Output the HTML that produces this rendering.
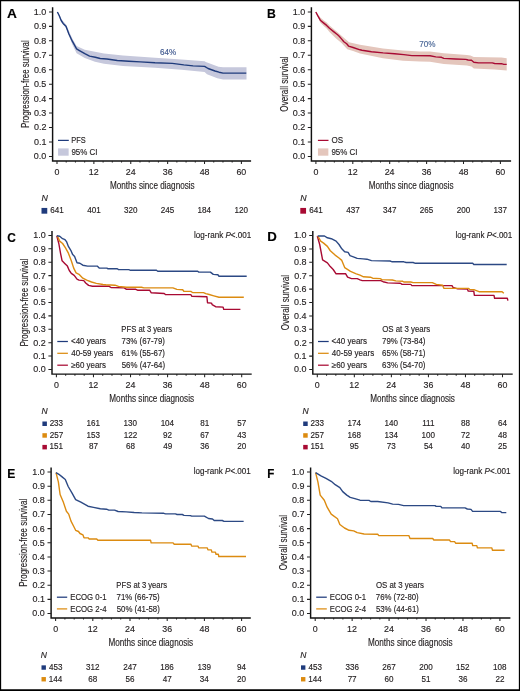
<!DOCTYPE html>
<html><head><meta charset="utf-8"><style>
html,body{margin:0;padding:0;background:#fff;}
svg{display:block;will-change:transform;font-family:"Liberation Sans", sans-serif;}
</style></head><body>
<svg width="520" height="691" viewBox="0 0 520 691">
<rect x="0" y="0" width="520" height="691" fill="#fff"/>
<text x="6.97" y="17.80" font-size="13.1" font-weight="bold" textLength="9.89" lengthAdjust="spacingAndGlyphs" fill="#000" stroke="#000" stroke-width="0.15">A</text>
<path d="M52.60 7.20 V160.90 H251.10" fill="none" stroke="#111" stroke-width="1.45"/>
<text x="33.85" y="159.35" font-size="9.6" textLength="12.49" lengthAdjust="spacingAndGlyphs" fill="#231f20" stroke="#231f20" stroke-width="0.15">0.0</text>
<text x="33.94" y="144.90" font-size="9.6" textLength="12.49" lengthAdjust="spacingAndGlyphs" fill="#231f20" stroke="#231f20" stroke-width="0.15">0.1</text>
<text x="33.96" y="130.45" font-size="9.6" textLength="12.49" lengthAdjust="spacingAndGlyphs" fill="#231f20" stroke="#231f20" stroke-width="0.15">0.2</text>
<text x="33.89" y="116.00" font-size="9.6" textLength="12.49" lengthAdjust="spacingAndGlyphs" fill="#231f20" stroke="#231f20" stroke-width="0.15">0.3</text>
<text x="33.77" y="101.55" font-size="9.6" textLength="12.49" lengthAdjust="spacingAndGlyphs" fill="#231f20" stroke="#231f20" stroke-width="0.15">0.4</text>
<text x="33.88" y="87.10" font-size="9.6" textLength="12.49" lengthAdjust="spacingAndGlyphs" fill="#231f20" stroke="#231f20" stroke-width="0.15">0.5</text>
<text x="33.89" y="72.65" font-size="9.6" textLength="12.49" lengthAdjust="spacingAndGlyphs" fill="#231f20" stroke="#231f20" stroke-width="0.15">0.6</text>
<text x="33.96" y="58.20" font-size="9.6" textLength="12.49" lengthAdjust="spacingAndGlyphs" fill="#231f20" stroke="#231f20" stroke-width="0.15">0.7</text>
<text x="33.89" y="43.75" font-size="9.6" textLength="12.49" lengthAdjust="spacingAndGlyphs" fill="#231f20" stroke="#231f20" stroke-width="0.15">0.8</text>
<text x="33.93" y="29.30" font-size="9.6" textLength="12.49" lengthAdjust="spacingAndGlyphs" fill="#231f20" stroke="#231f20" stroke-width="0.15">0.9</text>
<text x="33.85" y="14.85" font-size="9.6" textLength="12.49" lengthAdjust="spacingAndGlyphs" fill="#231f20" stroke="#231f20" stroke-width="0.15">1.0</text>
<text x="54.53" y="174.75" font-size="9.5" textLength="4.94" lengthAdjust="spacingAndGlyphs" fill="#231f20" stroke="#231f20" stroke-width="0.15">0</text>
<text x="88.82" y="174.75" font-size="9.5" textLength="9.88" lengthAdjust="spacingAndGlyphs" fill="#231f20" stroke="#231f20" stroke-width="0.15">12</text>
<text x="125.73" y="174.75" font-size="9.5" textLength="9.88" lengthAdjust="spacingAndGlyphs" fill="#231f20" stroke="#231f20" stroke-width="0.15">24</text>
<text x="162.72" y="174.75" font-size="9.5" textLength="9.88" lengthAdjust="spacingAndGlyphs" fill="#231f20" stroke="#231f20" stroke-width="0.15">36</text>
<text x="199.67" y="174.75" font-size="9.5" textLength="9.88" lengthAdjust="spacingAndGlyphs" fill="#231f20" stroke="#231f20" stroke-width="0.15">48</text>
<text x="236.41" y="174.75" font-size="9.5" textLength="9.88" lengthAdjust="spacingAndGlyphs" fill="#231f20" stroke="#231f20" stroke-width="0.15">60</text>
<path d="M49.00 156.40 H52.60 M49.00 141.95 H52.60 M49.00 127.50 H52.60 M49.00 113.05 H52.60 M49.00 98.60 H52.60 M49.00 84.15 H52.60 M49.00 69.70 H52.60 M49.00 55.25 H52.60 M49.00 40.80 H52.60 M49.00 26.35 H52.60 M49.00 11.90 H52.60 M57.00 160.90 V164.10 M66.22 160.90 V162.60 M75.44 160.90 V162.60 M84.66 160.90 V162.60 M93.88 160.90 V164.10 M103.10 160.90 V162.60 M112.32 160.90 V162.60 M121.54 160.90 V162.60 M130.76 160.90 V164.10 M139.98 160.90 V162.60 M149.20 160.90 V162.60 M158.42 160.90 V162.60 M167.64 160.90 V164.10 M176.86 160.90 V162.60 M186.08 160.90 V162.60 M195.30 160.90 V162.60 M204.52 160.90 V164.10 M213.74 160.90 V162.60 M222.96 160.90 V162.60 M232.18 160.90 V162.60 M241.40 160.90 V164.10" fill="none" stroke="#222" stroke-width="1.05"/>
<text x="109.93" y="188.85" font-size="10.4" textLength="84.76" lengthAdjust="spacingAndGlyphs" fill="#231f20" stroke="#231f20" stroke-width="0.15">Months since diagnosis</text>
<text transform="translate(28.70,84.10) rotate(-90)" x="-44.00" y="0" font-size="11.4" textLength="87.88" lengthAdjust="spacingAndGlyphs" fill="#231f20" stroke="#231f20" stroke-width="0.15">Progression-free survival</text>
<text x="41.44" y="201.00" font-size="8.2" font-style="italic" textLength="6.36" lengthAdjust="spacingAndGlyphs" fill="#231f20" stroke="#231f20" stroke-width="0.15">N</text>
<rect x="41.50" y="207.93" width="5.75" height="5.75" fill="#1f3b7c"/>
<text x="50.25" y="212.85" font-size="8.2" textLength="13.50" lengthAdjust="spacingAndGlyphs" fill="#231f20" stroke="#231f20" stroke-width="0.15">641</text>
<text x="87.24" y="212.85" font-size="8.2" textLength="13.50" lengthAdjust="spacingAndGlyphs" fill="#231f20" stroke="#231f20" stroke-width="0.15">401</text>
<text x="124.01" y="212.85" font-size="8.2" textLength="13.50" lengthAdjust="spacingAndGlyphs" fill="#231f20" stroke="#231f20" stroke-width="0.15">320</text>
<text x="160.86" y="212.85" font-size="8.2" textLength="13.50" lengthAdjust="spacingAndGlyphs" fill="#231f20" stroke="#231f20" stroke-width="0.15">245</text>
<text x="197.58" y="212.85" font-size="8.2" textLength="13.50" lengthAdjust="spacingAndGlyphs" fill="#231f20" stroke="#231f20" stroke-width="0.15">184</text>
<text x="234.50" y="212.85" font-size="8.2" textLength="13.50" lengthAdjust="spacingAndGlyphs" fill="#231f20" stroke="#231f20" stroke-width="0.15">120</text>
<text x="266.94" y="17.60" font-size="13.1" font-weight="bold" textLength="8.86" lengthAdjust="spacingAndGlyphs" fill="#000" stroke="#000" stroke-width="0.15">B</text>
<path d="M311.40 7.20 V160.90 H511.10" fill="none" stroke="#111" stroke-width="1.45"/>
<text x="292.65" y="159.35" font-size="9.6" textLength="12.49" lengthAdjust="spacingAndGlyphs" fill="#231f20" stroke="#231f20" stroke-width="0.15">0.0</text>
<text x="292.74" y="144.90" font-size="9.6" textLength="12.49" lengthAdjust="spacingAndGlyphs" fill="#231f20" stroke="#231f20" stroke-width="0.15">0.1</text>
<text x="292.76" y="130.45" font-size="9.6" textLength="12.49" lengthAdjust="spacingAndGlyphs" fill="#231f20" stroke="#231f20" stroke-width="0.15">0.2</text>
<text x="292.69" y="116.00" font-size="9.6" textLength="12.49" lengthAdjust="spacingAndGlyphs" fill="#231f20" stroke="#231f20" stroke-width="0.15">0.3</text>
<text x="292.57" y="101.55" font-size="9.6" textLength="12.49" lengthAdjust="spacingAndGlyphs" fill="#231f20" stroke="#231f20" stroke-width="0.15">0.4</text>
<text x="292.68" y="87.10" font-size="9.6" textLength="12.49" lengthAdjust="spacingAndGlyphs" fill="#231f20" stroke="#231f20" stroke-width="0.15">0.5</text>
<text x="292.69" y="72.65" font-size="9.6" textLength="12.49" lengthAdjust="spacingAndGlyphs" fill="#231f20" stroke="#231f20" stroke-width="0.15">0.6</text>
<text x="292.76" y="58.20" font-size="9.6" textLength="12.49" lengthAdjust="spacingAndGlyphs" fill="#231f20" stroke="#231f20" stroke-width="0.15">0.7</text>
<text x="292.69" y="43.75" font-size="9.6" textLength="12.49" lengthAdjust="spacingAndGlyphs" fill="#231f20" stroke="#231f20" stroke-width="0.15">0.8</text>
<text x="292.73" y="29.30" font-size="9.6" textLength="12.49" lengthAdjust="spacingAndGlyphs" fill="#231f20" stroke="#231f20" stroke-width="0.15">0.9</text>
<text x="292.65" y="14.85" font-size="9.6" textLength="12.49" lengthAdjust="spacingAndGlyphs" fill="#231f20" stroke="#231f20" stroke-width="0.15">1.0</text>
<text x="313.43" y="174.75" font-size="9.5" textLength="4.94" lengthAdjust="spacingAndGlyphs" fill="#231f20" stroke="#231f20" stroke-width="0.15">0</text>
<text x="347.74" y="174.75" font-size="9.5" textLength="9.88" lengthAdjust="spacingAndGlyphs" fill="#231f20" stroke="#231f20" stroke-width="0.15">12</text>
<text x="384.67" y="174.75" font-size="9.5" textLength="9.88" lengthAdjust="spacingAndGlyphs" fill="#231f20" stroke="#231f20" stroke-width="0.15">24</text>
<text x="421.68" y="174.75" font-size="9.5" textLength="9.88" lengthAdjust="spacingAndGlyphs" fill="#231f20" stroke="#231f20" stroke-width="0.15">36</text>
<text x="458.65" y="174.75" font-size="9.5" textLength="9.88" lengthAdjust="spacingAndGlyphs" fill="#231f20" stroke="#231f20" stroke-width="0.15">48</text>
<text x="495.41" y="174.75" font-size="9.5" textLength="9.88" lengthAdjust="spacingAndGlyphs" fill="#231f20" stroke="#231f20" stroke-width="0.15">60</text>
<path d="M307.80 156.40 H311.40 M307.80 141.95 H311.40 M307.80 127.50 H311.40 M307.80 113.05 H311.40 M307.80 98.60 H311.40 M307.80 84.15 H311.40 M307.80 69.70 H311.40 M307.80 55.25 H311.40 M307.80 40.80 H311.40 M307.80 26.35 H311.40 M307.80 11.90 H311.40 M315.90 160.90 V164.10 M325.12 160.90 V162.60 M334.35 160.90 V162.60 M343.57 160.90 V162.60 M352.80 160.90 V164.10 M362.02 160.90 V162.60 M371.25 160.90 V162.60 M380.47 160.90 V162.60 M389.70 160.90 V164.10 M398.92 160.90 V162.60 M408.15 160.90 V162.60 M417.38 160.90 V162.60 M426.60 160.90 V164.10 M435.82 160.90 V162.60 M445.05 160.90 V162.60 M454.27 160.90 V162.60 M463.50 160.90 V164.10 M472.73 160.90 V162.60 M481.95 160.90 V162.60 M491.17 160.90 V162.60 M500.40 160.90 V164.10" fill="none" stroke="#222" stroke-width="1.05"/>
<text x="368.73" y="188.85" font-size="10.4" textLength="84.76" lengthAdjust="spacingAndGlyphs" fill="#231f20" stroke="#231f20" stroke-width="0.15">Months since diagnosis</text>
<text transform="translate(287.50,84.10) rotate(-90)" x="-27.56" y="0" font-size="11.4" textLength="55.26" lengthAdjust="spacingAndGlyphs" fill="#231f20" stroke="#231f20" stroke-width="0.15">Overall survival</text>
<text x="300.24" y="201.00" font-size="8.2" font-style="italic" textLength="6.36" lengthAdjust="spacingAndGlyphs" fill="#231f20" stroke="#231f20" stroke-width="0.15">N</text>
<rect x="300.30" y="207.93" width="5.75" height="5.75" fill="#a80a33"/>
<text x="309.15" y="212.85" font-size="8.2" textLength="13.50" lengthAdjust="spacingAndGlyphs" fill="#231f20" stroke="#231f20" stroke-width="0.15">641</text>
<text x="346.17" y="212.85" font-size="8.2" textLength="13.50" lengthAdjust="spacingAndGlyphs" fill="#231f20" stroke="#231f20" stroke-width="0.15">437</text>
<text x="383.00" y="212.85" font-size="8.2" textLength="13.50" lengthAdjust="spacingAndGlyphs" fill="#231f20" stroke="#231f20" stroke-width="0.15">347</text>
<text x="419.82" y="212.85" font-size="8.2" textLength="13.50" lengthAdjust="spacingAndGlyphs" fill="#231f20" stroke="#231f20" stroke-width="0.15">265</text>
<text x="456.71" y="212.85" font-size="8.2" textLength="13.50" lengthAdjust="spacingAndGlyphs" fill="#231f20" stroke="#231f20" stroke-width="0.15">200</text>
<text x="493.55" y="212.85" font-size="8.2" textLength="13.50" lengthAdjust="spacingAndGlyphs" fill="#231f20" stroke="#231f20" stroke-width="0.15">137</text>
<text x="7.31" y="241.70" font-size="13.1" font-weight="bold" textLength="8.61" lengthAdjust="spacingAndGlyphs" fill="#000" stroke="#000" stroke-width="0.15">C</text>
<path d="M52.00 231.00 V374.10 H251.70" fill="none" stroke="#111" stroke-width="1.45"/>
<text x="33.25" y="372.45" font-size="9.6" textLength="12.49" lengthAdjust="spacingAndGlyphs" fill="#231f20" stroke="#231f20" stroke-width="0.15">0.0</text>
<text x="33.34" y="359.04" font-size="9.6" textLength="12.49" lengthAdjust="spacingAndGlyphs" fill="#231f20" stroke="#231f20" stroke-width="0.15">0.1</text>
<text x="33.36" y="345.63" font-size="9.6" textLength="12.49" lengthAdjust="spacingAndGlyphs" fill="#231f20" stroke="#231f20" stroke-width="0.15">0.2</text>
<text x="33.29" y="332.22" font-size="9.6" textLength="12.49" lengthAdjust="spacingAndGlyphs" fill="#231f20" stroke="#231f20" stroke-width="0.15">0.3</text>
<text x="33.17" y="318.81" font-size="9.6" textLength="12.49" lengthAdjust="spacingAndGlyphs" fill="#231f20" stroke="#231f20" stroke-width="0.15">0.4</text>
<text x="33.28" y="305.40" font-size="9.6" textLength="12.49" lengthAdjust="spacingAndGlyphs" fill="#231f20" stroke="#231f20" stroke-width="0.15">0.5</text>
<text x="33.29" y="291.99" font-size="9.6" textLength="12.49" lengthAdjust="spacingAndGlyphs" fill="#231f20" stroke="#231f20" stroke-width="0.15">0.6</text>
<text x="33.36" y="278.58" font-size="9.6" textLength="12.49" lengthAdjust="spacingAndGlyphs" fill="#231f20" stroke="#231f20" stroke-width="0.15">0.7</text>
<text x="33.29" y="265.17" font-size="9.6" textLength="12.49" lengthAdjust="spacingAndGlyphs" fill="#231f20" stroke="#231f20" stroke-width="0.15">0.8</text>
<text x="33.33" y="251.76" font-size="9.6" textLength="12.49" lengthAdjust="spacingAndGlyphs" fill="#231f20" stroke="#231f20" stroke-width="0.15">0.9</text>
<text x="33.25" y="238.35" font-size="9.6" textLength="12.49" lengthAdjust="spacingAndGlyphs" fill="#231f20" stroke="#231f20" stroke-width="0.15">1.0</text>
<text x="53.93" y="387.95" font-size="9.5" textLength="4.94" lengthAdjust="spacingAndGlyphs" fill="#231f20" stroke="#231f20" stroke-width="0.15">0</text>
<text x="88.40" y="387.95" font-size="9.5" textLength="9.88" lengthAdjust="spacingAndGlyphs" fill="#231f20" stroke="#231f20" stroke-width="0.15">12</text>
<text x="125.49" y="387.95" font-size="9.5" textLength="9.88" lengthAdjust="spacingAndGlyphs" fill="#231f20" stroke="#231f20" stroke-width="0.15">24</text>
<text x="162.66" y="387.95" font-size="9.5" textLength="9.88" lengthAdjust="spacingAndGlyphs" fill="#231f20" stroke="#231f20" stroke-width="0.15">36</text>
<text x="199.79" y="387.95" font-size="9.5" textLength="9.88" lengthAdjust="spacingAndGlyphs" fill="#231f20" stroke="#231f20" stroke-width="0.15">48</text>
<text x="236.71" y="387.95" font-size="9.5" textLength="9.88" lengthAdjust="spacingAndGlyphs" fill="#231f20" stroke="#231f20" stroke-width="0.15">60</text>
<path d="M48.40 369.50 H52.00 M48.40 356.09 H52.00 M48.40 342.68 H52.00 M48.40 329.27 H52.00 M48.40 315.86 H52.00 M48.40 302.45 H52.00 M48.40 289.04 H52.00 M48.40 275.63 H52.00 M48.40 262.22 H52.00 M48.40 248.81 H52.00 M48.40 235.40 H52.00 M56.40 374.10 V377.30 M65.66 374.10 V375.80 M74.93 374.10 V375.80 M84.19 374.10 V375.80 M93.46 374.10 V377.30 M102.72 374.10 V375.80 M111.99 374.10 V375.80 M121.25 374.10 V375.80 M130.52 374.10 V377.30 M139.78 374.10 V375.80 M149.05 374.10 V375.80 M158.31 374.10 V375.80 M167.58 374.10 V377.30 M176.84 374.10 V375.80 M186.11 374.10 V375.80 M195.38 374.10 V375.80 M204.64 374.10 V377.30 M213.90 374.10 V375.80 M223.17 374.10 V375.80 M232.43 374.10 V375.80 M241.70 374.10 V377.30" fill="none" stroke="#222" stroke-width="1.05"/>
<text x="109.33" y="402.05" font-size="10.4" textLength="84.76" lengthAdjust="spacingAndGlyphs" fill="#231f20" stroke="#231f20" stroke-width="0.15">Months since diagnosis</text>
<text transform="translate(28.10,302.60) rotate(-90)" x="-44.00" y="0" font-size="11.4" textLength="87.88" lengthAdjust="spacingAndGlyphs" fill="#231f20" stroke="#231f20" stroke-width="0.15">Progression-free survival</text>
<text x="41.64" y="414.20" font-size="8.2" font-style="italic" textLength="6.15" lengthAdjust="spacingAndGlyphs" fill="#231f20" stroke="#231f20" stroke-width="0.15">N</text>
<rect x="42.40" y="421.50" width="4.50" height="4.50" fill="#1f3b7c"/>
<text x="49.63" y="426.05" font-size="8.2" textLength="13.50" lengthAdjust="spacingAndGlyphs" fill="#231f20" stroke="#231f20" stroke-width="0.15">233</text>
<text x="86.60" y="426.05" font-size="8.2" textLength="13.50" lengthAdjust="spacingAndGlyphs" fill="#231f20" stroke="#231f20" stroke-width="0.15">161</text>
<text x="123.62" y="426.05" font-size="8.2" textLength="13.50" lengthAdjust="spacingAndGlyphs" fill="#231f20" stroke="#231f20" stroke-width="0.15">130</text>
<text x="160.64" y="426.05" font-size="8.2" textLength="13.50" lengthAdjust="spacingAndGlyphs" fill="#231f20" stroke="#231f20" stroke-width="0.15">104</text>
<text x="200.16" y="426.05" font-size="8.2" textLength="9.00" lengthAdjust="spacingAndGlyphs" fill="#231f20" stroke="#231f20" stroke-width="0.15">81</text>
<text x="237.24" y="426.05" font-size="8.2" textLength="9.00" lengthAdjust="spacingAndGlyphs" fill="#231f20" stroke="#231f20" stroke-width="0.15">57</text>
<rect x="42.40" y="433.20" width="4.50" height="4.50" fill="#dc8b10"/>
<text x="49.65" y="437.75" font-size="8.2" textLength="13.50" lengthAdjust="spacingAndGlyphs" fill="#231f20" stroke="#231f20" stroke-width="0.15">257</text>
<text x="86.58" y="437.75" font-size="8.2" textLength="13.50" lengthAdjust="spacingAndGlyphs" fill="#231f20" stroke="#231f20" stroke-width="0.15">153</text>
<text x="123.67" y="437.75" font-size="8.2" textLength="13.50" lengthAdjust="spacingAndGlyphs" fill="#231f20" stroke="#231f20" stroke-width="0.15">122</text>
<text x="163.10" y="437.75" font-size="8.2" textLength="9.00" lengthAdjust="spacingAndGlyphs" fill="#231f20" stroke="#231f20" stroke-width="0.15">92</text>
<text x="200.14" y="437.75" font-size="8.2" textLength="9.00" lengthAdjust="spacingAndGlyphs" fill="#231f20" stroke="#231f20" stroke-width="0.15">67</text>
<text x="237.29" y="437.75" font-size="8.2" textLength="9.00" lengthAdjust="spacingAndGlyphs" fill="#231f20" stroke="#231f20" stroke-width="0.15">43</text>
<rect x="42.40" y="444.90" width="4.50" height="4.50" fill="#a80a33"/>
<text x="49.54" y="449.45" font-size="8.2" textLength="13.50" lengthAdjust="spacingAndGlyphs" fill="#231f20" stroke="#231f20" stroke-width="0.15">151</text>
<text x="88.99" y="449.45" font-size="8.2" textLength="9.00" lengthAdjust="spacingAndGlyphs" fill="#231f20" stroke="#231f20" stroke-width="0.15">87</text>
<text x="125.99" y="449.45" font-size="8.2" textLength="9.00" lengthAdjust="spacingAndGlyphs" fill="#231f20" stroke="#231f20" stroke-width="0.15">68</text>
<text x="163.18" y="449.45" font-size="8.2" textLength="9.00" lengthAdjust="spacingAndGlyphs" fill="#231f20" stroke="#231f20" stroke-width="0.15">49</text>
<text x="200.16" y="449.45" font-size="8.2" textLength="9.00" lengthAdjust="spacingAndGlyphs" fill="#231f20" stroke="#231f20" stroke-width="0.15">36</text>
<text x="237.15" y="449.45" font-size="8.2" textLength="9.00" lengthAdjust="spacingAndGlyphs" fill="#231f20" stroke="#231f20" stroke-width="0.15">20</text>
<text x="267.23" y="241.30" font-size="13.1" font-weight="bold" textLength="9.57" lengthAdjust="spacingAndGlyphs" fill="#000" stroke="#000" stroke-width="0.15">D</text>
<path d="M312.80 231.00 V374.10 H512.70" fill="none" stroke="#111" stroke-width="1.45"/>
<text x="294.05" y="372.45" font-size="9.6" textLength="12.49" lengthAdjust="spacingAndGlyphs" fill="#231f20" stroke="#231f20" stroke-width="0.15">0.0</text>
<text x="294.14" y="359.05" font-size="9.6" textLength="12.49" lengthAdjust="spacingAndGlyphs" fill="#231f20" stroke="#231f20" stroke-width="0.15">0.1</text>
<text x="294.16" y="345.65" font-size="9.6" textLength="12.49" lengthAdjust="spacingAndGlyphs" fill="#231f20" stroke="#231f20" stroke-width="0.15">0.2</text>
<text x="294.09" y="332.25" font-size="9.6" textLength="12.49" lengthAdjust="spacingAndGlyphs" fill="#231f20" stroke="#231f20" stroke-width="0.15">0.3</text>
<text x="293.97" y="318.85" font-size="9.6" textLength="12.49" lengthAdjust="spacingAndGlyphs" fill="#231f20" stroke="#231f20" stroke-width="0.15">0.4</text>
<text x="294.08" y="305.45" font-size="9.6" textLength="12.49" lengthAdjust="spacingAndGlyphs" fill="#231f20" stroke="#231f20" stroke-width="0.15">0.5</text>
<text x="294.09" y="292.05" font-size="9.6" textLength="12.49" lengthAdjust="spacingAndGlyphs" fill="#231f20" stroke="#231f20" stroke-width="0.15">0.6</text>
<text x="294.16" y="278.65" font-size="9.6" textLength="12.49" lengthAdjust="spacingAndGlyphs" fill="#231f20" stroke="#231f20" stroke-width="0.15">0.7</text>
<text x="294.09" y="265.25" font-size="9.6" textLength="12.49" lengthAdjust="spacingAndGlyphs" fill="#231f20" stroke="#231f20" stroke-width="0.15">0.8</text>
<text x="294.13" y="251.85" font-size="9.6" textLength="12.49" lengthAdjust="spacingAndGlyphs" fill="#231f20" stroke="#231f20" stroke-width="0.15">0.9</text>
<text x="294.05" y="238.45" font-size="9.6" textLength="12.49" lengthAdjust="spacingAndGlyphs" fill="#231f20" stroke="#231f20" stroke-width="0.15">1.0</text>
<text x="314.83" y="387.95" font-size="9.5" textLength="4.94" lengthAdjust="spacingAndGlyphs" fill="#231f20" stroke="#231f20" stroke-width="0.15">0</text>
<text x="349.28" y="387.95" font-size="9.5" textLength="9.88" lengthAdjust="spacingAndGlyphs" fill="#231f20" stroke="#231f20" stroke-width="0.15">12</text>
<text x="386.35" y="387.95" font-size="9.5" textLength="9.88" lengthAdjust="spacingAndGlyphs" fill="#231f20" stroke="#231f20" stroke-width="0.15">24</text>
<text x="423.50" y="387.95" font-size="9.5" textLength="9.88" lengthAdjust="spacingAndGlyphs" fill="#231f20" stroke="#231f20" stroke-width="0.15">36</text>
<text x="460.61" y="387.95" font-size="9.5" textLength="9.88" lengthAdjust="spacingAndGlyphs" fill="#231f20" stroke="#231f20" stroke-width="0.15">48</text>
<text x="497.51" y="387.95" font-size="9.5" textLength="9.88" lengthAdjust="spacingAndGlyphs" fill="#231f20" stroke="#231f20" stroke-width="0.15">60</text>
<path d="M309.20 369.50 H312.80 M309.20 356.10 H312.80 M309.20 342.70 H312.80 M309.20 329.30 H312.80 M309.20 315.90 H312.80 M309.20 302.50 H312.80 M309.20 289.10 H312.80 M309.20 275.70 H312.80 M309.20 262.30 H312.80 M309.20 248.90 H312.80 M309.20 235.50 H312.80 M317.30 374.10 V377.30 M326.56 374.10 V375.80 M335.82 374.10 V375.80 M345.08 374.10 V375.80 M354.34 374.10 V377.30 M363.60 374.10 V375.80 M372.86 374.10 V375.80 M382.12 374.10 V375.80 M391.38 374.10 V377.30 M400.64 374.10 V375.80 M409.90 374.10 V375.80 M419.16 374.10 V375.80 M428.42 374.10 V377.30 M437.68 374.10 V375.80 M446.94 374.10 V375.80 M456.20 374.10 V375.80 M465.46 374.10 V377.30 M474.72 374.10 V375.80 M483.98 374.10 V375.80 M493.24 374.10 V375.80 M502.50 374.10 V377.30" fill="none" stroke="#222" stroke-width="1.05"/>
<text x="370.13" y="402.05" font-size="10.4" textLength="84.76" lengthAdjust="spacingAndGlyphs" fill="#231f20" stroke="#231f20" stroke-width="0.15">Months since diagnosis</text>
<text transform="translate(288.90,302.60) rotate(-90)" x="-27.56" y="0" font-size="11.4" textLength="55.26" lengthAdjust="spacingAndGlyphs" fill="#231f20" stroke="#231f20" stroke-width="0.15">Overall survival</text>
<text x="302.44" y="414.20" font-size="8.2" font-style="italic" textLength="6.15" lengthAdjust="spacingAndGlyphs" fill="#231f20" stroke="#231f20" stroke-width="0.15">N</text>
<rect x="303.20" y="421.50" width="4.50" height="4.50" fill="#1f3b7c"/>
<text x="310.53" y="426.05" font-size="8.2" textLength="13.50" lengthAdjust="spacingAndGlyphs" fill="#231f20" stroke="#231f20" stroke-width="0.15">233</text>
<text x="347.40" y="426.05" font-size="8.2" textLength="13.50" lengthAdjust="spacingAndGlyphs" fill="#231f20" stroke="#231f20" stroke-width="0.15">174</text>
<text x="384.48" y="426.05" font-size="8.2" textLength="13.50" lengthAdjust="spacingAndGlyphs" fill="#231f20" stroke="#231f20" stroke-width="0.15">140</text>
<text x="422.16" y="426.05" font-size="8.2" textLength="12.30" lengthAdjust="spacingAndGlyphs" fill="#231f20" stroke="#231f20" stroke-width="0.15">111</text>
<text x="460.96" y="426.05" font-size="8.2" textLength="9.00" lengthAdjust="spacingAndGlyphs" fill="#231f20" stroke="#231f20" stroke-width="0.15">88</text>
<text x="497.92" y="426.05" font-size="8.2" textLength="9.00" lengthAdjust="spacingAndGlyphs" fill="#231f20" stroke="#231f20" stroke-width="0.15">64</text>
<rect x="303.20" y="433.20" width="4.50" height="4.50" fill="#dc8b10"/>
<text x="310.55" y="437.75" font-size="8.2" textLength="13.50" lengthAdjust="spacingAndGlyphs" fill="#231f20" stroke="#231f20" stroke-width="0.15">257</text>
<text x="347.46" y="437.75" font-size="8.2" textLength="13.50" lengthAdjust="spacingAndGlyphs" fill="#231f20" stroke="#231f20" stroke-width="0.15">168</text>
<text x="384.44" y="437.75" font-size="8.2" textLength="13.50" lengthAdjust="spacingAndGlyphs" fill="#231f20" stroke="#231f20" stroke-width="0.15">134</text>
<text x="421.52" y="437.75" font-size="8.2" textLength="13.50" lengthAdjust="spacingAndGlyphs" fill="#231f20" stroke="#231f20" stroke-width="0.15">100</text>
<text x="460.96" y="437.75" font-size="8.2" textLength="9.00" lengthAdjust="spacingAndGlyphs" fill="#231f20" stroke="#231f20" stroke-width="0.15">72</text>
<text x="498.09" y="437.75" font-size="8.2" textLength="9.00" lengthAdjust="spacingAndGlyphs" fill="#231f20" stroke="#231f20" stroke-width="0.15">48</text>
<rect x="303.20" y="444.90" width="4.50" height="4.50" fill="#a80a33"/>
<text x="310.44" y="449.45" font-size="8.2" textLength="13.50" lengthAdjust="spacingAndGlyphs" fill="#231f20" stroke="#231f20" stroke-width="0.15">151</text>
<text x="349.82" y="449.45" font-size="8.2" textLength="9.00" lengthAdjust="spacingAndGlyphs" fill="#231f20" stroke="#231f20" stroke-width="0.15">95</text>
<text x="386.85" y="449.45" font-size="8.2" textLength="9.00" lengthAdjust="spacingAndGlyphs" fill="#231f20" stroke="#231f20" stroke-width="0.15">73</text>
<text x="423.88" y="449.45" font-size="8.2" textLength="9.00" lengthAdjust="spacingAndGlyphs" fill="#231f20" stroke="#231f20" stroke-width="0.15">54</text>
<text x="461.03" y="449.45" font-size="8.2" textLength="9.00" lengthAdjust="spacingAndGlyphs" fill="#231f20" stroke="#231f20" stroke-width="0.15">40</text>
<text x="497.97" y="449.45" font-size="8.2" textLength="9.00" lengthAdjust="spacingAndGlyphs" fill="#231f20" stroke="#231f20" stroke-width="0.15">25</text>
<text x="7.30" y="478.00" font-size="13.1" font-weight="bold" textLength="8.07" lengthAdjust="spacingAndGlyphs" fill="#000" stroke="#000" stroke-width="0.15">E</text>
<path d="M51.10 467.40 V617.90 H250.80" fill="none" stroke="#111" stroke-width="1.45"/>
<text x="32.35" y="616.45" font-size="9.6" textLength="12.49" lengthAdjust="spacingAndGlyphs" fill="#231f20" stroke="#231f20" stroke-width="0.15">0.0</text>
<text x="32.44" y="602.30" font-size="9.6" textLength="12.49" lengthAdjust="spacingAndGlyphs" fill="#231f20" stroke="#231f20" stroke-width="0.15">0.1</text>
<text x="32.46" y="588.15" font-size="9.6" textLength="12.49" lengthAdjust="spacingAndGlyphs" fill="#231f20" stroke="#231f20" stroke-width="0.15">0.2</text>
<text x="32.39" y="574.00" font-size="9.6" textLength="12.49" lengthAdjust="spacingAndGlyphs" fill="#231f20" stroke="#231f20" stroke-width="0.15">0.3</text>
<text x="32.27" y="559.85" font-size="9.6" textLength="12.49" lengthAdjust="spacingAndGlyphs" fill="#231f20" stroke="#231f20" stroke-width="0.15">0.4</text>
<text x="32.38" y="545.70" font-size="9.6" textLength="12.49" lengthAdjust="spacingAndGlyphs" fill="#231f20" stroke="#231f20" stroke-width="0.15">0.5</text>
<text x="32.39" y="531.55" font-size="9.6" textLength="12.49" lengthAdjust="spacingAndGlyphs" fill="#231f20" stroke="#231f20" stroke-width="0.15">0.6</text>
<text x="32.46" y="517.40" font-size="9.6" textLength="12.49" lengthAdjust="spacingAndGlyphs" fill="#231f20" stroke="#231f20" stroke-width="0.15">0.7</text>
<text x="32.39" y="503.25" font-size="9.6" textLength="12.49" lengthAdjust="spacingAndGlyphs" fill="#231f20" stroke="#231f20" stroke-width="0.15">0.8</text>
<text x="32.43" y="489.10" font-size="9.6" textLength="12.49" lengthAdjust="spacingAndGlyphs" fill="#231f20" stroke="#231f20" stroke-width="0.15">0.9</text>
<text x="32.35" y="474.95" font-size="9.6" textLength="12.49" lengthAdjust="spacingAndGlyphs" fill="#231f20" stroke="#231f20" stroke-width="0.15">1.0</text>
<text x="53.13" y="631.75" font-size="9.5" textLength="4.94" lengthAdjust="spacingAndGlyphs" fill="#231f20" stroke="#231f20" stroke-width="0.15">0</text>
<text x="87.74" y="631.75" font-size="9.5" textLength="9.88" lengthAdjust="spacingAndGlyphs" fill="#231f20" stroke="#231f20" stroke-width="0.15">12</text>
<text x="124.97" y="631.75" font-size="9.5" textLength="9.88" lengthAdjust="spacingAndGlyphs" fill="#231f20" stroke="#231f20" stroke-width="0.15">24</text>
<text x="162.28" y="631.75" font-size="9.5" textLength="9.88" lengthAdjust="spacingAndGlyphs" fill="#231f20" stroke="#231f20" stroke-width="0.15">36</text>
<text x="199.55" y="631.75" font-size="9.5" textLength="9.88" lengthAdjust="spacingAndGlyphs" fill="#231f20" stroke="#231f20" stroke-width="0.15">48</text>
<text x="236.61" y="631.75" font-size="9.5" textLength="9.88" lengthAdjust="spacingAndGlyphs" fill="#231f20" stroke="#231f20" stroke-width="0.15">60</text>
<path d="M47.50 613.50 H51.10 M47.50 599.35 H51.10 M47.50 585.20 H51.10 M47.50 571.05 H51.10 M47.50 556.90 H51.10 M47.50 542.75 H51.10 M47.50 528.60 H51.10 M47.50 514.45 H51.10 M47.50 500.30 H51.10 M47.50 486.15 H51.10 M47.50 472.00 H51.10 M55.60 617.90 V621.10 M64.90 617.90 V619.60 M74.20 617.90 V619.60 M83.50 617.90 V619.60 M92.80 617.90 V621.10 M102.10 617.90 V619.60 M111.40 617.90 V619.60 M120.70 617.90 V619.60 M130.00 617.90 V621.10 M139.30 617.90 V619.60 M148.60 617.90 V619.60 M157.90 617.90 V619.60 M167.20 617.90 V621.10 M176.50 617.90 V619.60 M185.80 617.90 V619.60 M195.10 617.90 V619.60 M204.40 617.90 V621.10 M213.70 617.90 V619.60 M223.00 617.90 V619.60 M232.30 617.90 V619.60 M241.60 617.90 V621.10" fill="none" stroke="#222" stroke-width="1.05"/>
<text x="108.43" y="645.85" font-size="10.4" textLength="84.76" lengthAdjust="spacingAndGlyphs" fill="#231f20" stroke="#231f20" stroke-width="0.15">Months since diagnosis</text>
<text transform="translate(27.20,542.70) rotate(-90)" x="-44.00" y="0" font-size="11.4" textLength="87.88" lengthAdjust="spacingAndGlyphs" fill="#231f20" stroke="#231f20" stroke-width="0.15">Progression-free survival</text>
<text x="40.74" y="658.00" font-size="8.2" font-style="italic" textLength="6.15" lengthAdjust="spacingAndGlyphs" fill="#231f20" stroke="#231f20" stroke-width="0.15">N</text>
<rect x="41.50" y="665.35" width="4.40" height="4.40" fill="#1f3b7c"/>
<text x="48.94" y="669.85" font-size="8.2" textLength="13.50" lengthAdjust="spacingAndGlyphs" fill="#231f20" stroke="#231f20" stroke-width="0.15">453</text>
<text x="86.10" y="669.85" font-size="8.2" textLength="13.50" lengthAdjust="spacingAndGlyphs" fill="#231f20" stroke="#231f20" stroke-width="0.15">312</text>
<text x="123.25" y="669.85" font-size="8.2" textLength="13.50" lengthAdjust="spacingAndGlyphs" fill="#231f20" stroke="#231f20" stroke-width="0.15">247</text>
<text x="160.32" y="669.85" font-size="8.2" textLength="13.50" lengthAdjust="spacingAndGlyphs" fill="#231f20" stroke="#231f20" stroke-width="0.15">186</text>
<text x="197.54" y="669.85" font-size="8.2" textLength="13.50" lengthAdjust="spacingAndGlyphs" fill="#231f20" stroke="#231f20" stroke-width="0.15">139</text>
<text x="237.03" y="669.85" font-size="8.2" textLength="9.00" lengthAdjust="spacingAndGlyphs" fill="#231f20" stroke="#231f20" stroke-width="0.15">94</text>
<rect x="41.50" y="677.05" width="4.40" height="4.40" fill="#dc8b10"/>
<text x="48.66" y="681.55" font-size="8.2" textLength="13.50" lengthAdjust="spacingAndGlyphs" fill="#231f20" stroke="#231f20" stroke-width="0.15">144</text>
<text x="88.27" y="681.55" font-size="8.2" textLength="9.00" lengthAdjust="spacingAndGlyphs" fill="#231f20" stroke="#231f20" stroke-width="0.15">68</text>
<text x="125.51" y="681.55" font-size="8.2" textLength="9.00" lengthAdjust="spacingAndGlyphs" fill="#231f20" stroke="#231f20" stroke-width="0.15">56</text>
<text x="162.82" y="681.55" font-size="8.2" textLength="9.00" lengthAdjust="spacingAndGlyphs" fill="#231f20" stroke="#231f20" stroke-width="0.15">47</text>
<text x="199.87" y="681.55" font-size="8.2" textLength="9.00" lengthAdjust="spacingAndGlyphs" fill="#231f20" stroke="#231f20" stroke-width="0.15">34</text>
<text x="237.05" y="681.55" font-size="8.2" textLength="9.00" lengthAdjust="spacingAndGlyphs" fill="#231f20" stroke="#231f20" stroke-width="0.15">20</text>
<text x="267.33" y="478.00" font-size="13.1" font-weight="bold" textLength="7.08" lengthAdjust="spacingAndGlyphs" fill="#000" stroke="#000" stroke-width="0.15">F</text>
<path d="M310.60 467.40 V617.90 H510.40" fill="none" stroke="#111" stroke-width="1.45"/>
<text x="291.85" y="616.45" font-size="9.6" textLength="12.49" lengthAdjust="spacingAndGlyphs" fill="#231f20" stroke="#231f20" stroke-width="0.15">0.0</text>
<text x="291.94" y="602.30" font-size="9.6" textLength="12.49" lengthAdjust="spacingAndGlyphs" fill="#231f20" stroke="#231f20" stroke-width="0.15">0.1</text>
<text x="291.96" y="588.15" font-size="9.6" textLength="12.49" lengthAdjust="spacingAndGlyphs" fill="#231f20" stroke="#231f20" stroke-width="0.15">0.2</text>
<text x="291.89" y="574.00" font-size="9.6" textLength="12.49" lengthAdjust="spacingAndGlyphs" fill="#231f20" stroke="#231f20" stroke-width="0.15">0.3</text>
<text x="291.77" y="559.85" font-size="9.6" textLength="12.49" lengthAdjust="spacingAndGlyphs" fill="#231f20" stroke="#231f20" stroke-width="0.15">0.4</text>
<text x="291.88" y="545.70" font-size="9.6" textLength="12.49" lengthAdjust="spacingAndGlyphs" fill="#231f20" stroke="#231f20" stroke-width="0.15">0.5</text>
<text x="291.89" y="531.55" font-size="9.6" textLength="12.49" lengthAdjust="spacingAndGlyphs" fill="#231f20" stroke="#231f20" stroke-width="0.15">0.6</text>
<text x="291.96" y="517.40" font-size="9.6" textLength="12.49" lengthAdjust="spacingAndGlyphs" fill="#231f20" stroke="#231f20" stroke-width="0.15">0.7</text>
<text x="291.89" y="503.25" font-size="9.6" textLength="12.49" lengthAdjust="spacingAndGlyphs" fill="#231f20" stroke="#231f20" stroke-width="0.15">0.8</text>
<text x="291.93" y="489.10" font-size="9.6" textLength="12.49" lengthAdjust="spacingAndGlyphs" fill="#231f20" stroke="#231f20" stroke-width="0.15">0.9</text>
<text x="291.85" y="474.95" font-size="9.6" textLength="12.49" lengthAdjust="spacingAndGlyphs" fill="#231f20" stroke="#231f20" stroke-width="0.15">1.0</text>
<text x="312.73" y="631.75" font-size="9.5" textLength="4.94" lengthAdjust="spacingAndGlyphs" fill="#231f20" stroke="#231f20" stroke-width="0.15">0</text>
<text x="347.08" y="631.75" font-size="9.5" textLength="9.88" lengthAdjust="spacingAndGlyphs" fill="#231f20" stroke="#231f20" stroke-width="0.15">12</text>
<text x="384.05" y="631.75" font-size="9.5" textLength="9.88" lengthAdjust="spacingAndGlyphs" fill="#231f20" stroke="#231f20" stroke-width="0.15">24</text>
<text x="421.10" y="631.75" font-size="9.5" textLength="9.88" lengthAdjust="spacingAndGlyphs" fill="#231f20" stroke="#231f20" stroke-width="0.15">36</text>
<text x="458.11" y="631.75" font-size="9.5" textLength="9.88" lengthAdjust="spacingAndGlyphs" fill="#231f20" stroke="#231f20" stroke-width="0.15">48</text>
<text x="494.91" y="631.75" font-size="9.5" textLength="9.88" lengthAdjust="spacingAndGlyphs" fill="#231f20" stroke="#231f20" stroke-width="0.15">60</text>
<path d="M307.00 613.50 H310.60 M307.00 599.35 H310.60 M307.00 585.20 H310.60 M307.00 571.05 H310.60 M307.00 556.90 H310.60 M307.00 542.75 H310.60 M307.00 528.60 H310.60 M307.00 514.45 H310.60 M307.00 500.30 H310.60 M307.00 486.15 H310.60 M307.00 472.00 H310.60 M315.20 617.90 V621.10 M324.44 617.90 V619.60 M333.67 617.90 V619.60 M342.90 617.90 V619.60 M352.14 617.90 V621.10 M361.38 617.90 V619.60 M370.61 617.90 V619.60 M379.84 617.90 V619.60 M389.08 617.90 V621.10 M398.31 617.90 V619.60 M407.55 617.90 V619.60 M416.78 617.90 V619.60 M426.02 617.90 V621.10 M435.25 617.90 V619.60 M444.49 617.90 V619.60 M453.72 617.90 V619.60 M462.96 617.90 V621.10 M472.19 617.90 V619.60 M481.43 617.90 V619.60 M490.66 617.90 V619.60 M499.90 617.90 V621.10" fill="none" stroke="#222" stroke-width="1.05"/>
<text x="367.93" y="645.85" font-size="10.4" textLength="84.76" lengthAdjust="spacingAndGlyphs" fill="#231f20" stroke="#231f20" stroke-width="0.15">Months since diagnosis</text>
<text transform="translate(286.70,542.70) rotate(-90)" x="-27.56" y="0" font-size="11.4" textLength="55.26" lengthAdjust="spacingAndGlyphs" fill="#231f20" stroke="#231f20" stroke-width="0.15">Overall survival</text>
<text x="300.24" y="658.00" font-size="8.2" font-style="italic" textLength="6.15" lengthAdjust="spacingAndGlyphs" fill="#231f20" stroke="#231f20" stroke-width="0.15">N</text>
<rect x="301.00" y="665.35" width="4.40" height="4.40" fill="#1f3b7c"/>
<text x="308.54" y="669.85" font-size="8.2" textLength="13.50" lengthAdjust="spacingAndGlyphs" fill="#231f20" stroke="#231f20" stroke-width="0.15">453</text>
<text x="345.41" y="669.85" font-size="8.2" textLength="13.50" lengthAdjust="spacingAndGlyphs" fill="#231f20" stroke="#231f20" stroke-width="0.15">336</text>
<text x="382.33" y="669.85" font-size="8.2" textLength="13.50" lengthAdjust="spacingAndGlyphs" fill="#231f20" stroke="#231f20" stroke-width="0.15">267</text>
<text x="419.23" y="669.85" font-size="8.2" textLength="13.50" lengthAdjust="spacingAndGlyphs" fill="#231f20" stroke="#231f20" stroke-width="0.15">200</text>
<text x="456.11" y="669.85" font-size="8.2" textLength="13.50" lengthAdjust="spacingAndGlyphs" fill="#231f20" stroke="#231f20" stroke-width="0.15">152</text>
<text x="493.02" y="669.85" font-size="8.2" textLength="13.50" lengthAdjust="spacingAndGlyphs" fill="#231f20" stroke="#231f20" stroke-width="0.15">108</text>
<rect x="301.00" y="677.05" width="4.40" height="4.40" fill="#dc8b10"/>
<text x="308.26" y="681.55" font-size="8.2" textLength="13.50" lengthAdjust="spacingAndGlyphs" fill="#231f20" stroke="#231f20" stroke-width="0.15">144</text>
<text x="347.64" y="681.55" font-size="8.2" textLength="9.00" lengthAdjust="spacingAndGlyphs" fill="#231f20" stroke="#231f20" stroke-width="0.15">77</text>
<text x="384.53" y="681.55" font-size="8.2" textLength="9.00" lengthAdjust="spacingAndGlyphs" fill="#231f20" stroke="#231f20" stroke-width="0.15">60</text>
<text x="421.55" y="681.55" font-size="8.2" textLength="9.00" lengthAdjust="spacingAndGlyphs" fill="#231f20" stroke="#231f20" stroke-width="0.15">51</text>
<text x="458.48" y="681.55" font-size="8.2" textLength="9.00" lengthAdjust="spacingAndGlyphs" fill="#231f20" stroke="#231f20" stroke-width="0.15">36</text>
<text x="495.40" y="681.55" font-size="8.2" textLength="9.00" lengthAdjust="spacingAndGlyphs" fill="#231f20" stroke="#231f20" stroke-width="0.15">22</text>
<polygon points="57.40,11.20 61.20,19.00 66.00,24.50 72.30,38.50 76.60,46.00 84.80,49.80 95.00,51.75 104.00,53.60 123.00,55.60 155.00,57.70 181.50,59.40 204.60,61.20 205.80,62.10 218.50,66.70 223.10,67.30 246.50,67.30 246.50,79.40 223.10,79.40 217.30,78.30 207.00,74.20 204.60,72.10 181.50,69.80 155.00,67.80 123.00,66.00 104.00,63.80 95.00,61.80 84.80,58.00 76.60,53.20 72.30,44.50 66.00,28.00 61.20,22.00 57.40,12.80" fill="#c6c8dc"/>
<polyline points="57.40,12.00 59.30,15.70 61.20,20.50 63.10,23.40 66.00,26.30 68.90,34.00 72.30,41.20 76.60,48.90 79.00,50.30 84.80,53.70 89.60,56.10 95.30,57.20 100.20,58.50 106.90,59.00 117.30,60.50 128.80,61.30 140.40,61.90 155.00,62.80 172.30,63.40 183.80,64.90 193.10,65.90 204.60,66.40 208.10,68.50 215.00,71.00 219.00,72.20 223.10,73.10 246.30,73.10" fill="none" stroke="#1f3b7c" stroke-width="1.4" stroke-linejoin="round"/>
<polygon points="315.80,11.40 318.00,14.50 320.30,17.50 323.80,20.50 326.65,22.60 329.50,25.50 335.80,30.80 340.40,34.80 346.15,39.70 349.00,42.30 360.00,44.80 383.00,48.40 403.00,50.40 420.00,51.40 430.00,51.60 443.80,53.30 466.90,55.00 470.40,55.40 473.80,56.90 501.50,57.40 506.70,58.30 506.70,70.60 494.60,69.40 473.80,68.40 471.50,66.50 466.90,65.40 443.80,64.00 430.00,61.70 420.00,61.50 403.00,60.80 383.00,58.20 360.00,53.60 353.10,51.00 347.30,49.20 341.50,42.90 335.80,38.30 329.50,32.00 326.65,28.50 323.80,26.00 320.30,22.50 318.00,17.20 315.80,12.60" fill="#e4c6bc"/>
<polyline points="315.80,12.00 318.00,16.15 320.30,20.20 323.80,23.10 326.65,25.40 329.50,28.30 333.60,31.60 337.60,34.80 339.20,36.25 341.50,38.85 343.85,41.70 346.70,43.75 348.50,46.05 353.10,47.50 360.00,49.80 362.00,50.30 371.50,51.70 383.10,52.90 394.60,53.80 403.80,54.60 411.90,55.60 430.00,55.80 435.80,56.90 441.50,57.30 443.80,58.40 455.40,59.00 465.80,59.40 468.10,60.00 471.50,60.30 473.80,62.30 478.50,62.90 492.30,62.90 494.60,63.50 501.50,63.70 503.80,64.40 506.70,64.40" fill="none" stroke="#a80a33" stroke-width="1.4" stroke-linejoin="round"/>
<polyline points="56.80,235.80 58.80,243.50 60.70,254.10 62.10,260.80 65.00,263.70 67.40,266.10 69.30,270.50 71.30,273.30 74.20,275.30 77.00,279.10 79.00,280.10 83.80,280.60 85.70,283.00 88.60,285.40 92.40,286.30 109.20,286.30 111.00,287.50 124.20,287.90 126.50,289.30 135.80,289.30 137.50,290.20 149.60,290.20 151.30,292.80 164.20,293.50 165.40,294.60 190.80,294.60 191.90,296.30 206.90,296.70 207.50,302.70 211.50,303.10 212.10,304.60 215.60,306.70 223.10,307.10 223.70,309.40 240.40,309.40" fill="none" stroke="#a80a33" stroke-width="1.4" stroke-linejoin="round"/>
<polyline points="57.30,235.80 59.70,241.10 62.60,243.50 65.50,247.90 68.40,253.20 71.30,260.80 73.70,268.10 76.10,272.90 79.00,274.30 82.80,278.20 86.70,280.10 91.50,282.00 96.30,283.40 103.00,284.50 105.80,284.80 115.00,285.20 118.50,286.40 126.50,287.30 141.50,287.30 143.80,287.90 172.90,287.90 176.90,289.40 182.70,289.80 183.80,291.20 190.80,291.40 192.50,292.50 203.50,292.60 205.80,293.60 209.20,294.50 213.80,295.80 219.00,297.20 243.80,297.20" fill="none" stroke="#dc8b10" stroke-width="1.4" stroke-linejoin="round"/>
<polyline points="56.80,235.80 59.70,236.30 62.60,238.70 65.00,239.70 66.50,241.60 68.40,246.40 70.80,250.30 72.70,254.60 74.60,256.50 77.00,262.80 79.90,263.25 82.80,265.20 87.60,266.10 97.20,266.10 99.20,268.10 106.90,268.10 108.10,268.80 117.30,268.80 118.50,269.65 128.80,269.65 130.60,270.30 156.50,270.30 157.70,271.20 197.70,271.20 198.80,272.10 210.40,272.10 213.30,274.40 217.90,274.80 219.00,276.20 246.70,276.20" fill="none" stroke="#2c4984" stroke-width="1.4" stroke-linejoin="round"/>
<polyline points="317.30,236.00 319.70,244.50 322.60,259.90 327.40,262.80 330.30,266.60 333.20,269.50 336.10,273.80 345.70,273.80 347.60,277.20 351.50,278.60 357.20,278.60 360.00,279.80 362.30,280.60 380.80,280.60 383.10,281.70 387.70,282.90 400.40,283.20 402.10,284.40 410.80,284.40 411.90,285.60 452.00,285.60 453.00,287.30 457.70,288.80 467.50,289.00 468.10,291.00 473.80,291.30 474.40,295.40 494.00,295.40 494.60,298.30 507.30,298.30 507.90,300.60" fill="none" stroke="#a80a33" stroke-width="1.4" stroke-linejoin="round"/>
<polyline points="317.80,236.00 320.70,241.10 323.60,243.10 327.40,246.40 330.30,250.75 335.10,255.10 339.00,258.00 341.80,260.40 344.70,267.60 350.50,271.40 356.30,273.80 360.00,275.20 363.50,276.80 370.40,277.20 372.70,278.20 380.20,278.60 381.90,279.65 392.30,280.00 395.80,280.90 402.70,281.20 403.80,282.00 410.80,282.00 413.10,282.60 432.30,282.60 436.30,284.40 442.70,285.20 443.80,288.30 468.70,288.40 469.80,289.40 474.40,289.80 479.00,291.70 502.10,291.70 503.80,293.30" fill="none" stroke="#dc8b10" stroke-width="1.4" stroke-linejoin="round"/>
<polyline points="317.80,236.00 324.50,236.00 327.40,237.80 331.30,238.70 336.10,241.10 339.00,244.50 341.80,248.80 344.70,251.70 348.10,252.40 350.00,255.60 353.40,256.80 357.20,258.40 363.00,258.90 366.90,259.20 371.50,260.60 390.00,261.00 392.30,261.80 403.80,261.80 406.20,262.50 413.10,262.50 415.40,263.30 472.70,263.30 473.80,264.50 506.70,264.50" fill="none" stroke="#2c4984" stroke-width="1.4" stroke-linejoin="round"/>
<polyline points="56.00,472.60 58.35,481.85 60.10,494.50 63.50,502.60 66.40,511.30 68.70,514.15 71.00,521.10 73.90,526.80 75.65,530.30 78.50,531.50 80.00,533.50 82.90,534.85 84.00,537.85 88.10,537.85 89.20,539.00 96.70,539.00 97.90,540.30 150.60,540.30 151.15,542.90 173.10,542.90 174.20,544.20 191.00,544.30 191.60,546.15 198.10,546.15 198.65,547.90 207.30,547.90 207.90,549.85 211.30,549.85 211.90,552.15 215.40,552.15 216.00,554.20 218.30,554.20 218.80,556.50 246.00,556.50" fill="none" stroke="#dc8b10" stroke-width="1.4" stroke-linejoin="round"/>
<polyline points="56.00,472.60 58.90,474.30 61.80,476.65 65.30,479.50 68.20,486.50 72.20,493.40 75.65,499.70 80.85,502.20 88.00,506.20 93.50,507.40 100.30,508.80 106.50,509.20 108.80,510.15 114.60,510.15 118.10,511.50 126.20,511.90 134.20,512.50 141.90,512.90 163.80,513.30 165.60,513.85 175.40,513.85 177.10,514.50 182.30,514.50 184.00,515.35 190.40,515.60 191.70,516.15 204.40,516.15 208.50,518.50 212.50,519.00 214.20,520.50 222.30,520.50 224.00,521.35 243.65,521.35" fill="none" stroke="#2c4984" stroke-width="1.4" stroke-linejoin="round"/>
<polyline points="315.60,472.60 317.90,481.85 320.20,495.10 324.30,500.30 327.15,507.20 331.20,514.15 337.50,518.80 339.85,524.50 344.50,528.00 349.10,530.30 353.70,530.90 357.20,532.60 364.10,534.00 377.70,534.20 378.85,535.60 408.85,535.60 410.00,538.50 432.70,538.50 433.85,540.00 449.40,540.00 450.60,541.60 454.60,541.60 455.80,543.30 472.20,543.30 472.70,545.60 476.80,545.60 477.40,547.90 491.85,547.90 492.40,550.20 504.60,550.20" fill="none" stroke="#dc8b10" stroke-width="1.4" stroke-linejoin="round"/>
<polyline points="315.60,472.60 321.40,476.10 326.00,478.40 331.20,481.30 335.20,484.70 339.85,487.60 342.70,491.65 346.80,495.10 350.20,497.40 354.85,498.60 360.00,500.20 369.00,500.40 370.80,501.50 377.70,501.50 388.10,502.90 392.70,504.10 398.50,504.40 403.65,505.60 435.00,505.60 436.15,506.40 440.80,506.40 441.90,507.90 465.00,507.90 467.30,509.00 471.00,509.40 472.60,511.40 500.50,511.40 501.70,512.60 506.30,512.60" fill="none" stroke="#2c4984" stroke-width="1.4" stroke-linejoin="round"/>
<text x="160.10" y="54.80" font-size="8.3" textLength="16.19" lengthAdjust="spacingAndGlyphs" fill="#40598f" stroke="#40598f" stroke-width="0.15">64%</text>
<text x="419.18" y="47.10" font-size="8.3" textLength="16.30" lengthAdjust="spacingAndGlyphs" fill="#4a6797" stroke="#4a6797" stroke-width="0.15">70%</text>
<line x1="58.0" y1="140.4" x2="68.8" y2="140.4" stroke="#1f3b7c" stroke-width="1.25"/>
<text x="71.19" y="142.80" font-size="8.9" textLength="14.44" lengthAdjust="spacingAndGlyphs" fill="#231f20" stroke="#231f20" stroke-width="0.15">PFS</text>
<rect x="58.05" y="148.4" width="10.6" height="7.3" fill="#c6c8dc"/>
<text x="71.43" y="154.50" font-size="8.9" textLength="26.10" lengthAdjust="spacingAndGlyphs" fill="#231f20" stroke="#231f20" stroke-width="0.15">95% CI</text>
<line x1="317.9" y1="140.4" x2="328.5" y2="140.4" stroke="#a80a33" stroke-width="1.25"/>
<text x="331.42" y="142.80" font-size="8.9" textLength="11.64" lengthAdjust="spacingAndGlyphs" fill="#231f20" stroke="#231f20" stroke-width="0.15">OS</text>
<rect x="317.95" y="148.4" width="10.4" height="7.3" fill="#e4c6bc"/>
<text x="331.43" y="154.50" font-size="8.9" textLength="26.10" lengthAdjust="spacingAndGlyphs" fill="#231f20" stroke="#231f20" stroke-width="0.15">95% CI</text>
<text x="194.06" y="237.80" font-size="8.3" textLength="57.13" lengthAdjust="spacingAndGlyphs" fill="#231f20" stroke="#231f20" stroke-width="0.15">log-rank <tspan font-style="italic">P</tspan>&lt;.001</text>
<text x="455.46" y="237.50" font-size="8.3" textLength="56.82" lengthAdjust="spacingAndGlyphs" fill="#231f20" stroke="#231f20" stroke-width="0.15">log-rank <tspan font-style="italic">P</tspan>&lt;.001</text>
<text x="193.66" y="474.40" font-size="8.3" textLength="57.13" lengthAdjust="spacingAndGlyphs" fill="#231f20" stroke="#231f20" stroke-width="0.15">log-rank <tspan font-style="italic">P</tspan>&lt;.001</text>
<text x="453.16" y="474.40" font-size="8.3" textLength="57.23" lengthAdjust="spacingAndGlyphs" fill="#231f20" stroke="#231f20" stroke-width="0.15">log-rank <tspan font-style="italic">P</tspan>&lt;.001</text>
<text x="121.37" y="332.40" font-size="8.8" textLength="50.65" lengthAdjust="spacingAndGlyphs" fill="#231f20" stroke="#231f20" stroke-width="0.15">PFS at 3 years</text>
<line x1="57.3" y1="341.5" x2="67.9" y2="341.5" stroke="#1f3b7c" stroke-width="1.25"/>
<text x="71.01" y="344.20" font-size="8.5" textLength="35.08" lengthAdjust="spacingAndGlyphs" fill="#231f20" stroke="#231f20" stroke-width="0.15">&lt;40 years</text>
<text x="121.60" y="344.20" font-size="8.5" textLength="43.39" lengthAdjust="spacingAndGlyphs" fill="#231f20" stroke="#231f20" stroke-width="0.15">73% (67-79)</text>
<line x1="57.3" y1="353.3" x2="67.9" y2="353.3" stroke="#dc8b10" stroke-width="1.25"/>
<text x="71.23" y="356.00" font-size="8.5" textLength="41.91" lengthAdjust="spacingAndGlyphs" fill="#231f20" stroke="#231f20" stroke-width="0.15">40-59 years</text>
<text x="121.61" y="356.00" font-size="8.5" textLength="43.39" lengthAdjust="spacingAndGlyphs" fill="#231f20" stroke="#231f20" stroke-width="0.15">61% (55-67)</text>
<line x1="57.3" y1="365.2" x2="67.9" y2="365.2" stroke="#a80a33" stroke-width="1.25"/>
<text x="71.15" y="367.90" font-size="8.5" textLength="34.80" lengthAdjust="spacingAndGlyphs" fill="#231f20" stroke="#231f20" stroke-width="0.15">≥60 years</text>
<text x="121.68" y="367.90" font-size="8.5" textLength="43.39" lengthAdjust="spacingAndGlyphs" fill="#231f20" stroke="#231f20" stroke-width="0.15">56% (47-64)</text>
<text x="382.13" y="332.40" font-size="8.8" textLength="48.15" lengthAdjust="spacingAndGlyphs" fill="#231f20" stroke="#231f20" stroke-width="0.15">OS at 3 years</text>
<line x1="318.0" y1="341.5" x2="328.7" y2="341.5" stroke="#1f3b7c" stroke-width="1.25"/>
<text x="331.61" y="344.20" font-size="8.5" textLength="35.44" lengthAdjust="spacingAndGlyphs" fill="#231f20" stroke="#231f20" stroke-width="0.15">&lt;40 years</text>
<text x="382.10" y="344.20" font-size="8.5" textLength="43.39" lengthAdjust="spacingAndGlyphs" fill="#231f20" stroke="#231f20" stroke-width="0.15">79% (73-84)</text>
<line x1="318.0" y1="353.3" x2="328.7" y2="353.3" stroke="#dc8b10" stroke-width="1.25"/>
<text x="331.82" y="356.00" font-size="8.5" textLength="42.34" lengthAdjust="spacingAndGlyphs" fill="#231f20" stroke="#231f20" stroke-width="0.15">40-59 years</text>
<text x="382.11" y="356.00" font-size="8.5" textLength="43.39" lengthAdjust="spacingAndGlyphs" fill="#231f20" stroke="#231f20" stroke-width="0.15">65% (58-71)</text>
<line x1="318.0" y1="365.2" x2="328.7" y2="365.2" stroke="#a80a33" stroke-width="1.25"/>
<text x="331.75" y="367.90" font-size="8.5" textLength="35.15" lengthAdjust="spacingAndGlyphs" fill="#231f20" stroke="#231f20" stroke-width="0.15">≥60 years</text>
<text x="382.11" y="367.90" font-size="8.5" textLength="43.39" lengthAdjust="spacingAndGlyphs" fill="#231f20" stroke="#231f20" stroke-width="0.15">63% (54-70)</text>
<text x="116.37" y="588.00" font-size="8.8" textLength="50.65" lengthAdjust="spacingAndGlyphs" fill="#231f20" stroke="#231f20" stroke-width="0.15">PFS at 3 years</text>
<line x1="56.9" y1="597.2" x2="67.2" y2="597.2" stroke="#1f3b7c" stroke-width="1.25"/>
<text x="70.26" y="599.95" font-size="8.8" textLength="36.31" lengthAdjust="spacingAndGlyphs" fill="#231f20" stroke="#231f20" stroke-width="0.15">ECOG 0-1</text>
<text x="116.60" y="599.95" font-size="8.8" textLength="43.14" lengthAdjust="spacingAndGlyphs" fill="#231f20" stroke="#231f20" stroke-width="0.15">71% (66-75)</text>
<line x1="56.9" y1="608.9" x2="67.2" y2="608.9" stroke="#dc8b10" stroke-width="1.25"/>
<text x="70.26" y="611.65" font-size="8.8" textLength="36.31" lengthAdjust="spacingAndGlyphs" fill="#231f20" stroke="#231f20" stroke-width="0.15">ECOG 2-4</text>
<text x="116.69" y="611.65" font-size="8.8" textLength="43.14" lengthAdjust="spacingAndGlyphs" fill="#231f20" stroke="#231f20" stroke-width="0.15">50% (41-58)</text>
<text x="375.88" y="588.00" font-size="8.8" textLength="48.15" lengthAdjust="spacingAndGlyphs" fill="#231f20" stroke="#231f20" stroke-width="0.15">OS at 3 years</text>
<line x1="316.2" y1="597.2" x2="326.8" y2="597.2" stroke="#1f3b7c" stroke-width="1.25"/>
<text x="329.76" y="599.95" font-size="8.8" textLength="36.21" lengthAdjust="spacingAndGlyphs" fill="#231f20" stroke="#231f20" stroke-width="0.15">ECOG 0-1</text>
<text x="375.85" y="599.95" font-size="8.8" textLength="42.88" lengthAdjust="spacingAndGlyphs" fill="#231f20" stroke="#231f20" stroke-width="0.15">76% (72-80)</text>
<line x1="316.2" y1="608.9" x2="326.8" y2="608.9" stroke="#dc8b10" stroke-width="1.25"/>
<text x="329.76" y="611.65" font-size="8.8" textLength="36.21" lengthAdjust="spacingAndGlyphs" fill="#231f20" stroke="#231f20" stroke-width="0.15">ECOG 2-4</text>
<text x="375.94" y="611.65" font-size="8.8" textLength="42.88" lengthAdjust="spacingAndGlyphs" fill="#231f20" stroke="#231f20" stroke-width="0.15">53% (44-61)</text>
<path d="M0 0H520V1.15H0Z M0 0H1.15V691H0Z M518.85 0H520V691H518.85Z M0 689.2H520V691H0Z" fill="#000"/>
</svg>
</body></html>
